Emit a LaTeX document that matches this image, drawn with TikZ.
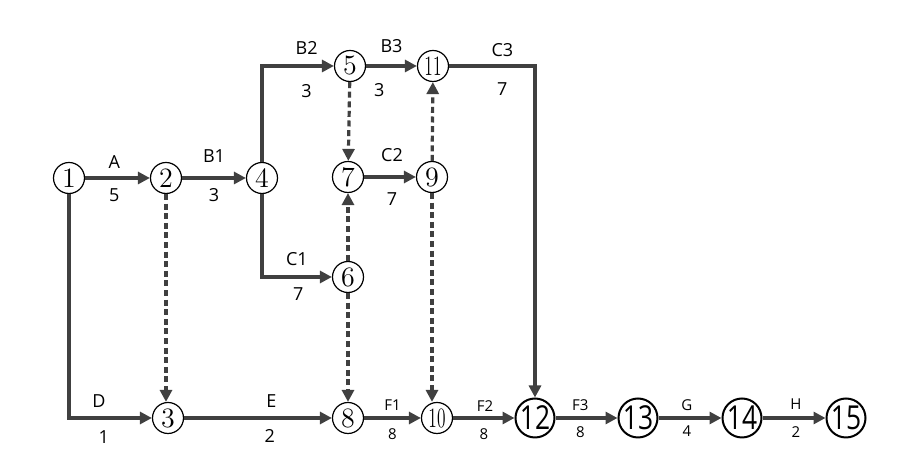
\documentclass[tikz,border=0pt]{standalone}
\usepackage{fontspec}
\setsansfont{Open Sans}
\usepackage{graphicx}
\usetikzlibrary{arrows.meta}
\definecolor{actgray}{HTML}{404040}

\begin{document}
\begin{tikzpicture}[
    x=0.5pt, y=-0.5pt,
    event/.style={circle, draw, line width=0.6pt, minimum size=15.5pt, inner sep=0pt,
      font=\fontsize{14}{14}\selectfont},
    bigevent/.style={circle, draw, line width=1pt, minimum size=19.5pt, inner sep=0pt,
      font=\sffamily\fontsize{16.5}{16.5}\selectfont},
    act/.style={draw=actgray, line width=1.6pt, -{Triangle[length=6pt,width=6pt]}},
    dummy/.style={act, dash pattern=on 3pt off 1.8pt},
    lab/.style={font=\sffamily\fontsize{9}{9}\selectfont, inner sep=2pt},
    slab/.style={font=\sffamily\fontsize{7.5}{7.5}\selectfont, inner sep=2pt}
  ]
  \useasboundingbox (0,0) rectangle (917,453);

  \node[event] (n1) at (69,178) {1};
  \node[event] (n2) at (166,178) {2};
  \node[event] (n4) at (262,178) {4};
  \node[event] (n5) at (350,66) {5};
  \node[event] (n11) at (433,66) {\scalebox{0.62}[1]{11}};
  \node[event] (n7) at (348,177) {7};
  \node[event] (n9) at (432,177) {9};
  \node[event] (n6) at (348,277) {6};
  \node[event] (n3) at (168,418) {3};
  \node[event] (n8) at (348,418) {8};
  \node[event] (n10) at (437,418) {\scalebox{0.62}[1]{10}};
  \node[bigevent] (n12) at (535,418) {\scalebox{0.8}[1]{12}};
  \node[bigevent] (n13) at (638,418) {\scalebox{0.8}[1]{13}};
  \node[bigevent] (n14) at (742,418) {\scalebox{0.8}[1]{14}};
  \node[bigevent] (n15) at (846,418) {\scalebox{0.8}[1]{15}};

  \draw[act] (n1) -- node[lab, pos=0.45, above=1.8pt] {A} node[lab, pos=0.45, below=2.3pt] {5} (n2);
  \draw[act] (n2) -- node[lab, above=4.8pt] {B1} node[lab, below=2.3pt] {3} (n4);
  \draw[act] (n4) |- node[lab, pos=0.81, above=2.8pt] {B2} node[lab, pos=0.81, below=6.3pt] {3} (n5);
  \draw[act] (n5) -- node[lab, pos=0.5, above=3.8pt] {B3} node[lab, pos=0.26, below=5.8pt] {3} (n11);
  \draw[act] (n11) -| node[lab, pos=0.31, above=1.8pt] {C3} node[lab, pos=0.31, below=5.3pt] {7} (n12);
  \draw[act] (n4) |- node[lab, pos=0.75, above=2.8pt] {C1} node[lab, pos=0.76, below=2.3pt] {7} (n6);
  \draw[act] (n7) -- node[lab, pos=0.54, above=4.8pt] {C2} node[lab, pos=0.54, below=4.8pt] {7} (n9);
  \draw[act] (n1) |- node[lab, pos=0.68, above=2.3pt] {D} node[lab, pos=0.71, below=3.3pt] {1} (n3);
  \draw[act] (n3) -- node[lab, pos=0.59, above=2.3pt] {E} node[lab, pos=0.58, below=2.8pt] {2} (n8);
  \draw[act] (n8) -- node[slab, above=0.8pt] {F1} node[slab, below=2.3pt] {8} (n10);
  \draw[act] (n10) -- node[slab, pos=0.52, above=0.3pt] {F2} node[slab, pos=0.5, below=2.3pt] {8} (n12);
  \draw[act] (n12) -- node[slab, pos=0.4, above=0.8pt] {F3} node[slab, pos=0.4, below=1.3pt] {8} (n13);
  \draw[act] (n13) -- node[slab, pos=0.45, above=0.8pt] {G} node[slab, pos=0.45, below=1.3pt] {4} (n14);
  \draw[act] (n14) -- node[slab, pos=0.53, above=1.3pt] {H} node[slab, pos=0.53, below=1.3pt] {2} (n15);

  % dummy activities
  \draw[dummy] (n2.south) -- (n2.south |- n3.north);
  \draw[dummy] (n5) -- (n7);
  \draw[dummy] (n6) -- (n7);
  \draw[dummy] (n6) -- (n8);
  \draw[dummy] (n9) -- (n11);
  \draw[dummy] (n9.south) -- (n9.south |- n10.north);

\end{tikzpicture}
\end{document}
